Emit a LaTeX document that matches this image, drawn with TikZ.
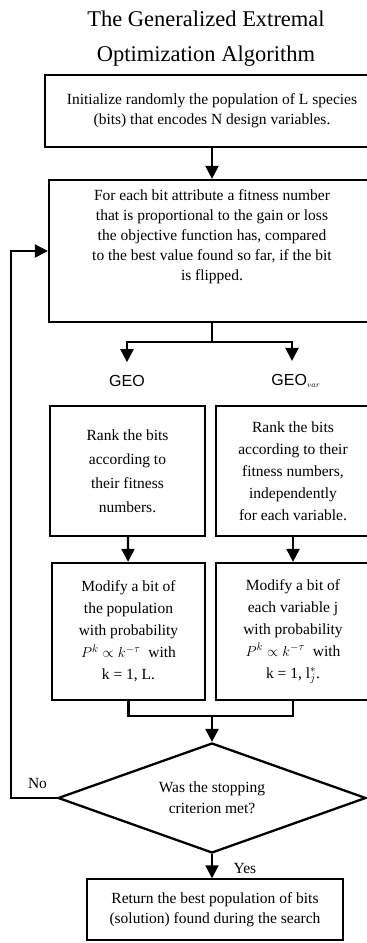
\documentclass[tikz,border=0pt]{standalone}
\usepackage{fontspec}
\setmainfont{Liberation Serif}
\setsansfont{Liberation Sans}
\usetikzlibrary{shapes.geometric,arrows.meta}

\begin{document}
\begin{tikzpicture}[x=1pt,y=-1pt,
  box/.style={draw,line width=2.3pt,align=center,inner sep=0pt,font=\fontsize{15.5}{20}\selectfont},
  branch/.style={inner sep=0pt,font=\sffamily\fontsize{16}{16}\selectfont},
  link/.style={line width=2.3pt},
  arr/.style={line width=2.3pt,-{Triangle[length=13pt,width=13pt]}}]
  \useasboundingbox (0,0) rectangle (367,943);
  \node[align=center,font=\fontsize{22.5}{35}\selectfont] (title) at (206,39) {The Generalized Extremal\\Optimization Algorithm};
  \node[box,minimum width=334pt,minimum height=72pt] (init) at (212,111) {Initialize randomly the population of L species\\(bits) that encodes N design variables.};
  \node[box,minimum width=326pt,minimum height=142pt,text depth=32pt] (fit) at (212,251) {For each bit attribute a fitness number\\that is proportional to the gain or loss\\the objective function has, compared\\to the best value found so far, if the bit\\is flipped.};
  \coordinate (split) at (212,342);
  \node[branch] (geo) at (127,381) {GEO};
  \node[branch] (geovar) at (296,381) {GEO$_{\scriptscriptstyle var}$};
  \node[box,minimum width=155pt,minimum height=130pt,font=\fontsize{15.5}{24}\selectfont] (rank) at (127.5,471) {Rank the bits\\according to\\their fitness\\numbers.};
  \node[box,minimum width=154pt,minimum height=130pt,font=\fontsize{15.5}{22}\selectfont] (rankvar) at (293,471) {Rank the bits\\according to their\\fitness numbers,\\independently\\for each variable.};
  \node[box,minimum width=153pt,minimum height=137pt,font=\fontsize{15.5}{22}\selectfont] (mod) at (128.5,631.5) {Modify a bit of\\the population\\with probability\\$P^k\propto k^{-\tau}$\ \ with\\k = 1, L.};
  \node[box,minimum width=154pt,minimum height=137pt,font=\fontsize{15.5}{22}\selectfont] (modvar) at (293,631.5) {Modify a bit of\\each variable j\\with probability\\$P^k\propto k^{-\tau}$\ \ with\\k = 1, l$_j^*$.};
  \coordinate (merge) at (212,716);
  \node[diamond,draw,line width=2.3pt,aspect=2.8,minimum width=308pt,minimum height=110pt,inner sep=0pt,align=center,font=\fontsize{15.5}{21}\selectfont] (stop) at (212,798) {Was the stopping\\criterion met?};
  \node[box,line width=1.4pt,minimum width=256pt,minimum height=61pt] (out) at (215,909.5) {Return the best population of bits\\(solution) found during the search};
  \node[font=\fontsize{15.5}{18}\selectfont] (no) at (37.5,783) {No};
  \node[font=\fontsize{15.5}{18}\selectfont] (yes) at (245,868) {Yes};
  \coordinate (back) at (11,798);
  % connectors
  \draw[arr] (init) -- (fit);
  \draw[link] (fit.south) -- (split);
  \draw[arr,shorten >=13pt] (split) -| (geo);
  \draw[arr,shorten >=13pt] (split) -| ([xshift=-4pt]geovar.north);
  \draw[arr] (rank) -- (mod);
  \draw[arr] (rankvar) -- (modvar);
  \draw[link] (mod.south) |- (merge) -| (modvar.south);
  \draw[arr] (merge) -- (stop.north);
  \draw[arr] (stop.south) -- (stop.south |- out.north);
  \draw[arr] (stop.west) -- (back) |- (fit.west);
\end{tikzpicture}
\end{document}
